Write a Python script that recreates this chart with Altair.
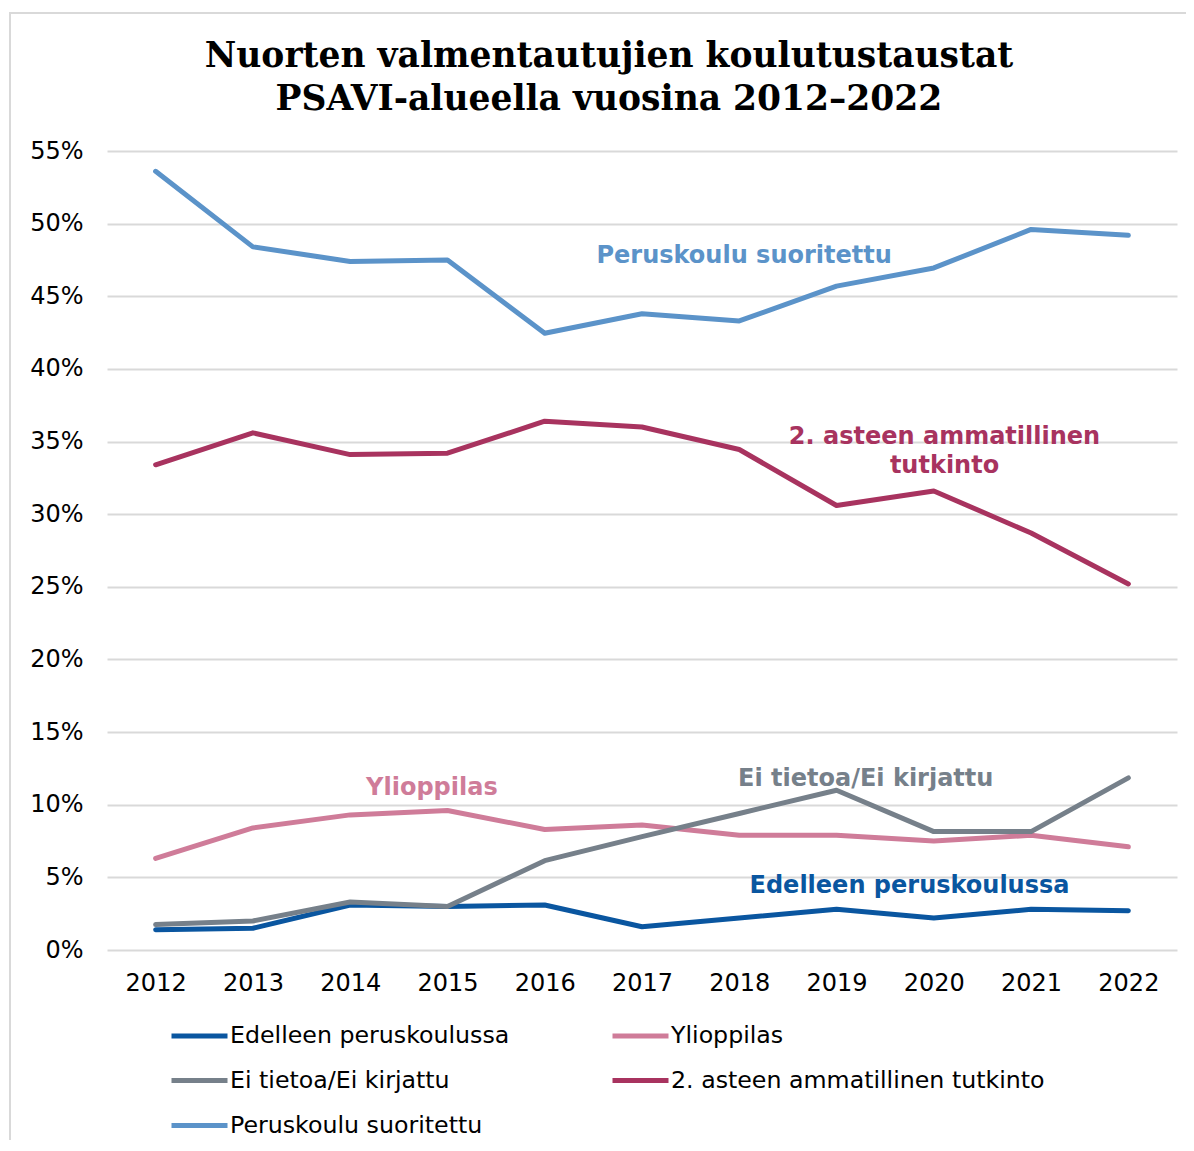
import altair as alt
import pandas as pd

years = list(range(2012, 2023))
series_names = [
    "Edelleen peruskoulussa",
    "Ylioppilas",
    "Ei tietoa/Ei kirjattu",
    "2. asteen ammatillinen tutkinto",
    "Peruskoulu suoritettu",
]
edelleen = [1.4, 1.5, 3.1, 3.0, 3.1, 1.6, 2.2, 2.8, 2.2, 2.8, 2.7]
ylioppilas = [6.3, 8.4, 9.3, 9.6, 8.3, 8.6, 7.9, 7.9, 7.5, 7.9, 7.1]
ei_tietoa = [1.75, 2.0, 3.3, 3.0, 6.15, 7.8, 9.4, 11.0, 8.15, 8.15, 11.85]
ammatillinen = [33.4, 35.6, 34.1, 34.2, 36.4, 36.0, 34.45, 30.6, 31.6, 28.7, 25.2]
peruskoulu = [53.6, 48.4, 47.4, 47.5, 42.45, 43.8, 43.3, 45.7, 46.95, 49.6, 49.2]
colors = ["#0A56A0", "#CF7C99", "#76808A", "#A8335F", "#5B93C9"]

title_lines = ["Nuorten valmentautujien koulutustaustat", "PSAVI-alueella vuosina 2012\u20132022"]

# annotation labels (text, series for colour, anchor year, anchor value in %)
ann_text = ["Peruskoulu suoritettu", "2. asteen ammatillinen", "tutkinto",
            "Ylioppilas", "Ei tietoa/Ei kirjattu", "Edelleen peruskoulussa"]
ann_series = [series_names[4], series_names[3], series_names[3],
              series_names[1], series_names[2], series_names[0]]
ann_year = [2018.05, 2020.11, 2020.11, 2014.84, 2019.30, 2019.75]
ann_value = [47.29, 34.83, 32.86, 10.67, 11.29, 3.9]

rows = []
for name, vals in zip(series_names, [edelleen, ylioppilas, ei_tietoa, ammatillinen, peruskoulu]):
    for yr, v in zip(years, vals):
        rows.append({"series": name, "year": yr, "value": v / 100})
df = pd.DataFrame(rows)

ann_df = pd.DataFrame({
    "label": ann_text,
    "series": ann_series,
    "year": ann_year,
    "value": [v / 100 for v in ann_value],
})

FONT = "DejaVu Sans"

x_enc = alt.X(
    "year:Q",
    scale=alt.Scale(domain=[2011.5, 2022.5], nice=False, zero=False),
    axis=alt.Axis(values=years, format="d", title=None, grid=False, ticks=False,
                  domain=False, labelFontSize=24, labelFont=FONT, labelColor="#000000",
                  labelPadding=21, labelFlush=False),
)
y_enc = alt.Y(
    "value:Q",
    scale=alt.Scale(domain=[0, 0.55], nice=False),
    axis=alt.Axis(values=[i * 0.05 for i in range(12)], format=".0%", title=None,
                  ticks=False, domain=False, gridColor="#d9d9d9", gridWidth=2,
                  labelFontSize=24, labelFont=FONT, labelColor="#000000",
                  labelPadding=24),
)
color_scale = alt.Scale(domain=series_names, range=colors)

lines = alt.Chart(df).mark_line(strokeWidth=5, strokeCap="round", strokeJoin="round").encode(
    x=x_enc,
    y=y_enc,
    color=alt.Color(
        "series:N",
        scale=color_scale,
        sort=series_names,
        legend=alt.Legend(
            title=None, orient="none", legendX=62, legendY=854, columns=2,
            direction="horizontal",
            symbolType="stroke", symbolSize=3136, symbolStrokeWidth=5,
            labelFontSize=23.7, labelFont=FONT, labelColor="#000000",
            labelLimit=600, labelOffset=0, columnPadding=92, rowPadding=2,
            padding=0,
        ),
    ),
)

texts = alt.Chart(ann_df).mark_text(
    font=FONT, fontSize=24, fontWeight="bold", align="center", baseline="alphabetic"
).encode(
    x="year:Q",
    y="value:Q",
    text="label:N",
    color=alt.Color("series:N", scale=color_scale, legend=None),
)

title_df = pd.DataFrame({"line": title_lines})
title1 = alt.Chart(title_df).transform_filter(alt.datum.line == title_lines[0]).mark_text(
    font="DejaVu Serif", fontSize=34.5, fontWeight="bold", color="#000000",
    align="center", baseline="alphabetic", clip=False,
).encode(text="line:N", x=alt.value(502), y=alt.value(-84))
title2 = alt.Chart(title_df).transform_filter(alt.datum.line == title_lines[1]).mark_text(
    font="DejaVu Serif", fontSize=34.5, fontWeight="bold", color="#000000",
    align="center", baseline="alphabetic", clip=False,
).encode(text="line:N", x=alt.value(502), y=alt.value(-41))

frame = alt.Chart(pd.DataFrame({"k": [0]})).mark_rect(
    fillOpacity=0, stroke="#d9d9d9", strokeWidth=2, clip=False
).encode(
    x=alt.value(-97), x2=alt.value(1110), y=alt.value(-138), y2=alt.value(1020)
)

chart = alt.layer(frame, lines, texts, title1, title2).properties(
    width=1070,
    height=799,
    autosize=alt.AutoSizeParams(type="none"),
    padding={"left": 99, "top": 143, "right": 9, "bottom": 190},
).configure_view(stroke=None)

chart.save("out.html", embed_options={"renderer": "svg", "actions": False})
